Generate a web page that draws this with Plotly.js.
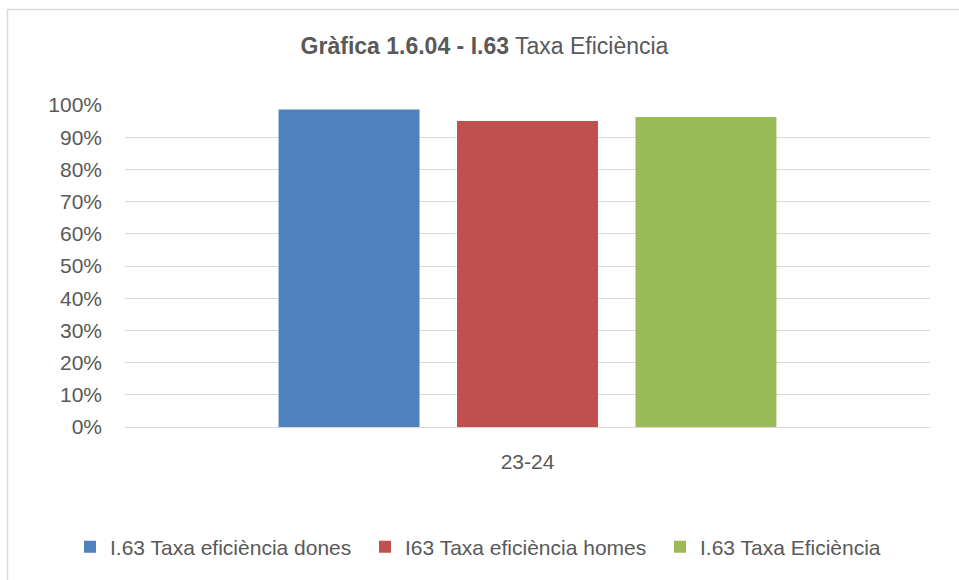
<!DOCTYPE html>
<html>
<head>
<meta charset="utf-8">
<script src="https://cdn.plot.ly/plotly-3.0.1.min.js"></script>
<style>html,body{margin:0;padding:0;background:#fff;}#chart{width:959px;height:580px;}</style>
</head>
<body>
<div id="chart"></div>
<script>
const categories = ['23-24'];
const seriesNames = ['I.63 Taxa eficiència dones', 'I63 Taxa eficiència homes', 'I.63 Taxa Eficiència'];
const donesValues = [0.986];
const homesValues = [0.950];
const totalValues = [0.963];
const seriesColors = ['#4F81BD', '#C0504D', '#9BBB59'];
const yTickVals = [0, 0.1, 0.2, 0.3, 0.4, 0.5, 0.6, 0.7, 0.8, 0.9, 1.0];
const yTickText = ['0%', '10%', '20%', '30%', '40%', '50%', '60%', '70%', '80%', '90%', '100%'];

const allValues = [donesValues, homesValues, totalValues];
const font = 'Liberation Sans, Arial, sans-serif';
const textColor = '#595959';

const data = allValues.map((vals, i) => ({
  type: 'bar',
  name: seriesNames[i],
  x: categories,
  y: vals,
  marker: {color: seriesColors[i]},
  hoverinfo: 'none'
}));

const layout = {
  width: 959,
  height: 580,
  paper_bgcolor: '#ffffff',
  plot_bgcolor: '#ffffff',
  margin: {l: 125, r: 29, t: 105, b: 153},
  barmode: 'group',
  bargap: 0.335,
  bargroupgap: 0.21,
  title: {
    text: '<b>Gràfica 1.6.04 - I.63</b> Taxa Eficiència',
    font: {family: font, size: 23, color: textColor},
    x: 484.5 / 959, xanchor: 'center', xref: 'container',
    y: 1 - 46/580, yanchor: 'middle', yref: 'container'
  },
  xaxis: {
    type: 'category',
    showgrid: false,
    showline: false,
    zeroline: false,
    ticks: '',
    ticklabelstandoff: 20,
    tickfont: {family: font, size: 21, color: textColor}
  },
  yaxis: {
    range: [0, 1],
    tickvals: yTickVals,
    ticktext: yTickText,
    showgrid: true,
    gridcolor: '#D9D9D9',
    gridwidth: 1,
    zeroline: true,
    zerolinecolor: '#D9D9D9',
    zerolinewidth: 1,
    showline: false,
    ticks: '',
    ticklabelstandoff: 22,
    tickfont: {family: font, size: 21, color: textColor}
  },
  legend: {
    orientation: 'h',
    x: (70 - 125) / 805, xanchor: 'left',
    y: (427 - 547) / 322, yanchor: 'middle',
    font: {family: font, size: 21, color: textColor},
    itemwidth: 30,
    entrywidth: 250,
    entrywidthmode: 'pixels',
    traceorder: 'normal'
  },
  showlegend: true,
  shapes: [{
    type: 'rect',
    xref: 'paper', yref: 'paper',
    x0: (7.5 - 125) / 805, x1: 1.2,
    y0: -1, y1: (427 - 9.5) / 322,
    line: {color: '#D9D9D9', width: 1.5},
    fillcolor: 'rgba(0,0,0,0)',
    layer: 'below'
  }]
};

Plotly.newPlot('chart', data, layout, {displayModeBar: false, staticPlot: true});
</script>
</body>
</html>
